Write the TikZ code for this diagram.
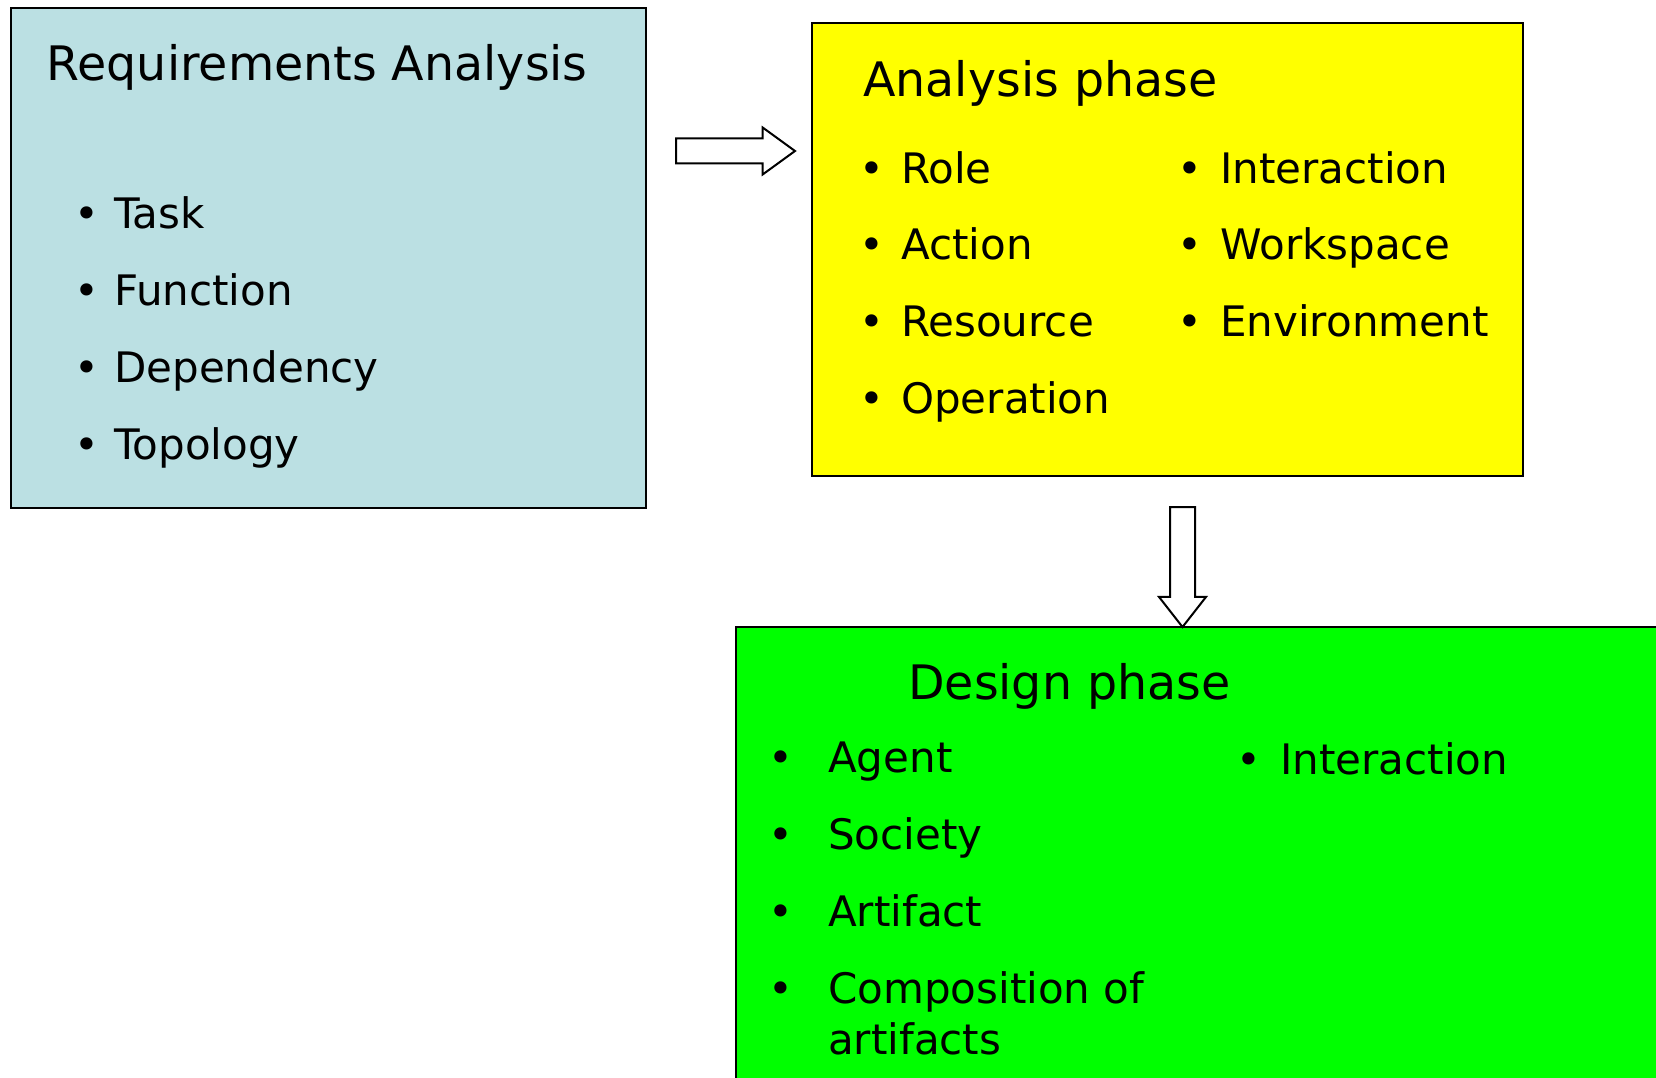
\documentclass[tikz,border=0pt]{standalone}
\usepackage{fontspec}
\setmainfont{DejaVu Sans}
\usetikzlibrary{shapes.arrows}
\definecolor{paleblue}{HTML}{BBE0E3}
\definecolor{brightyellow}{RGB}{255,255,0}
\definecolor{brightgreen}{RGB}{0,255,0}
\tikzstyle{boxb}=[draw,line width=2pt,fill=paleblue,inner sep=0pt]
\tikzstyle{boxy}=[draw,line width=2pt,fill=brightyellow,inner sep=0pt]
\tikzstyle{boxg}=[draw,line width=2pt,fill=brightgreen,inner sep=0pt]
\tikzstyle{ttl}=[anchor=base west,inner sep=0pt,font=\fontsize{47.5}{57}\selectfont]
\tikzstyle{itm}=[anchor=base west,inner sep=0pt,align=left,font=\fontsize{42}{51}\selectfont]
\tikzstyle{bul}=[anchor=base,inner sep=0pt,font=\fontsize{42}{51}\selectfont]
\tikzstyle{blockarrow}=[single arrow,draw,line width=2pt,fill=white,inner sep=11.5pt,single arrow head extend=11pt,anchor=tail,outer sep=0pt]

\begin{document}
\begin{tikzpicture}[x=1pt,y=-1pt]
    \useasboundingbox (0,0) rectangle (1656,1078);
    \clip (0,0) rectangle (1656,1078);

    % the three boxes
    \node[boxb,minimum width=635pt,minimum height=500pt] (req) at (328,258) {};
    \node[boxy,minimum width=711pt,minimum height=453pt] (ana) at (1167.5,249.5) {};
    \node[boxg,minimum width=960pt,minimum height=490pt] (des) at (1216,872) {};

    % block arrows between them
    \node[blockarrow,minimum height=119pt,single arrow tip angle=72] (toana) at (676,151) {};
    \node[blockarrow,minimum height=120pt,single arrow tip angle=76,rotate=-90] (todes) at (1182.5,507) {};

    % requirements
    \node[ttl] (reqt) at (46.5,81) {Requirements Analysis};
    \foreach \t/\y [count=\i] in {Task/228,Function/305,Dependency/382,Topology/459}
    {
        \node[bul] (rb\i) at (86.6,\y) {•};
        \node[itm] (r\i) at (114,\y) {\t};
    }

    % analysis phase
    \node[ttl] (anat) at (863,97) {Analysis phase};
    \foreach \t/\y [count=\i] in {Role/183,Action/259,Resource/336,Operation/413}
    {
        \node[bul] (ab\i) at (872,\y) {•};
        \node[itm] (a\i) at (901,\y) {\t};
    }
    \foreach \t/\y [count=\i] in {Interaction/183,Workspace/259,Environment/336}
    {
        \node[bul] (cb\i) at (1190,\y) {•};
        \node[itm] (c\i) at (1220,\y) {\t};
    }

    % design phase
    \node[ttl] (dest) at (908,699) {Design phase};
    \foreach \t/\y [count=\i] in {Agent/772,Society/849,Artifact/926}
    {
        \node[bul] (db\i) at (781,\y) {•};
        \node[itm] (d\i) at (828,\y) {\t};
    }
    % two-line item: base anchor sits on its last line
    \node[bul] (db4) at (781,1003) {•};
    \node[itm] (d4) at (828,1054) {Composition of\\artifacts};
    \node[bul] (eb1) at (1249,774) {•};
    \node[itm] (e1) at (1280,774) {Interaction};
\end{tikzpicture}
\end{document}
